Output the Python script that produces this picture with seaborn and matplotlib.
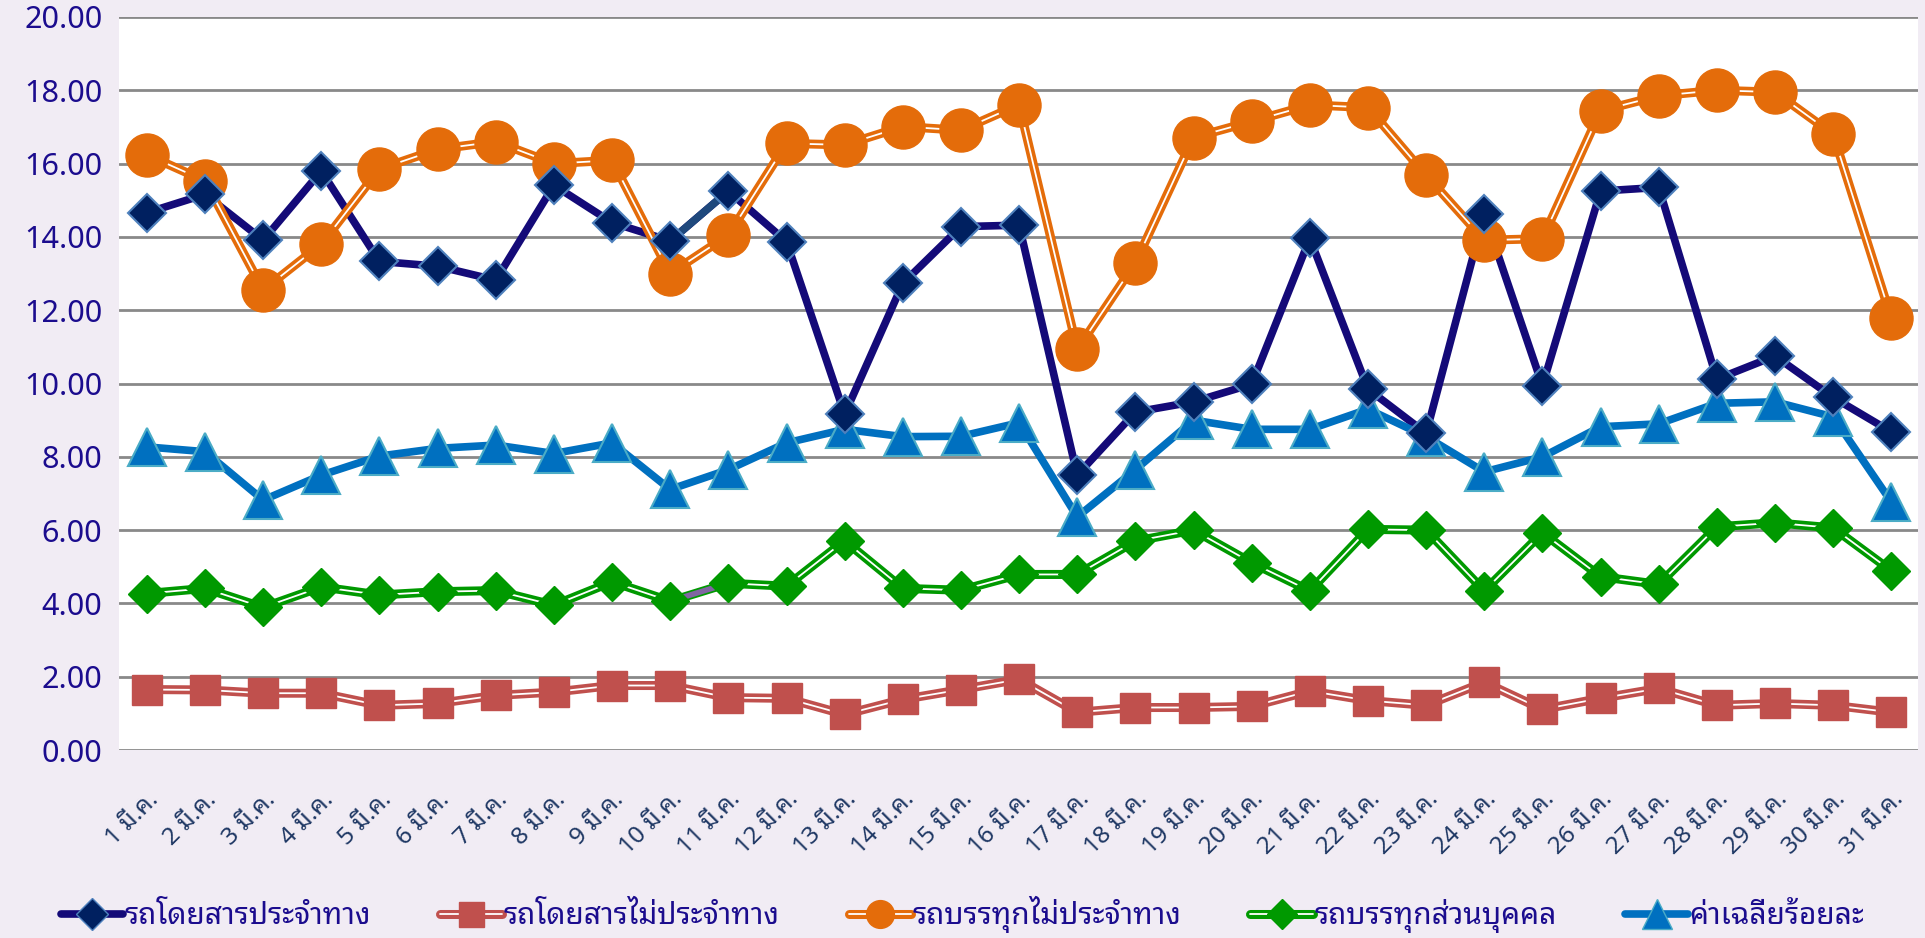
import matplotlib

matplotlib.use("Agg")
import matplotlib.pyplot as plt
import numpy as np
import pandas as pd
import seaborn as sns
from matplotlib import font_manager
from matplotlib.lines import Line2D

days = [f"{d} มี.ค." for d in range(1, 32)]

bus_regular = [14.66, 15.16, 13.91, 15.80, 13.33, 13.20, 12.82, 15.41, 14.39, 13.89,
               15.25, 13.87, 9.16, 12.73, 14.28, 14.32, 7.50, 9.22, 9.50, 9.98,
               13.96, 9.85, 8.64, 14.62, 9.94, 15.25, 15.35, 10.12, 10.75, 9.62, 8.68]
bus_charter = [1.65, 1.64, 1.55, 1.55, 1.22, 1.27, 1.49, 1.58, 1.76, 1.76,
               1.43, 1.41, 0.97, 1.38, 1.65, 1.93, 1.03, 1.16, 1.16, 1.19,
               1.61, 1.35, 1.22, 1.85, 1.11, 1.41, 1.68, 1.22, 1.27, 1.22, 1.03]
truck_charter = [16.24, 15.53, 12.55, 13.80, 15.85, 16.39, 16.60, 16.00, 16.09, 13.00,
                 14.05, 16.55, 16.51, 17.01, 16.91, 17.61, 10.93, 13.29, 16.71, 17.15,
                 17.60, 17.53, 15.68, 13.91, 13.95, 17.44, 17.85, 18.00, 17.95, 16.80, 11.78]
truck_private = [4.27, 4.41, 3.89, 4.45, 4.23, 4.32, 4.35, 3.95, 4.59, 4.06,
                 4.55, 4.47, 5.71, 4.41, 4.36, 4.79, 4.79, 5.70, 6.00, 5.11,
                 4.34, 6.02, 6.00, 4.34, 5.93, 4.73, 4.52, 6.09, 6.20, 6.06, 4.89]
average = [8.27, 8.14, 6.82, 7.50, 8.02, 8.23, 8.32, 8.09, 8.38, 7.11,
           7.65, 8.38, 8.75, 8.55, 8.56, 8.93, 6.36, 7.65, 9.00, 8.75,
           8.75, 9.30, 8.55, 7.59, 8.00, 8.82, 8.90, 9.46, 9.50, 9.09, 6.77]

labels = ["รถโดยสารประจำทาง", "รถโดยสารไม่ประจำทาง", "รถบรรทุกไม่ประจำทาง",
          "รถบรรทุกส่วนบุคคล", "ค่าเฉลี่ยร้อยละ"]

# pick an installed font that has Thai glyphs
installed = {f.name for f in font_manager.fontManager.ttflist}
thai = "DejaVu Sans"
for name in ["Tahoma", "Noto Sans Thai Looped", "IBM Plex Sans Thai Looped", "Noto Sans Thai", "Loma"]:
    if name in installed:
        thai = name
        break

sns.set_style("white")
plt.rcParams["font.family"] = [thai, "DejaVu Sans"]

BG = "#F1ECF4"
TXT = "#1B0C8E"
df = pd.DataFrame({"x": np.arange(len(days))})

fig = plt.figure(figsize=(19.25, 9.38), dpi=100, facecolor=BG)
ax = fig.add_axes([0.0618, 0.2004, 0.9346, 0.7815])
ax.set_facecolor("white")

# solid lines
sns.lineplot(x=df["x"], y=bus_regular, ax=ax, color="#140A78", lw=5.5, zorder=3)
sns.lineplot(x=df["x"][9:11], y=bus_regular[9:11], ax=ax, color="#1F497D", lw=5.5, zorder=3)
sns.lineplot(x=df["x"], y=average, ax=ax, color="#0070C0", lw=5.5, zorder=3)

# double lines: coloured thick line with a thin white core
for vals, col in [(truck_charter, "#E46C0A"), (bus_charter, "#C0504D"), (truck_private, "#009900")]:
    sns.lineplot(x=df["x"], y=vals, ax=ax, color=col, lw=6.5, zorder=3)
    if col == "#009900":
        sns.lineplot(x=df["x"][9:11], y=vals[9:11], ax=ax, color="#8064A2", lw=4, zorder=3)
        sns.lineplot(x=df["x"][:10], y=vals[:10], ax=ax, color="white", lw=1.3, zorder=3)
        sns.lineplot(x=df["x"][10:], y=vals[10:], ax=ax, color="white", lw=1.3, zorder=3)
    else:
        sns.lineplot(x=df["x"], y=vals, ax=ax, color="white", lw=1.3, zorder=3)

# markers
ax.plot(df["x"], bus_charter, ls="none", marker="s", ms=22, color="#C0504D", mec="#C0504D", zorder=4)
ax.plot(df["x"], truck_private, ls="none", marker="D", ms=19, color="#009900", mec="#009900", zorder=4)
ax.plot(df["x"], average, ls="none", marker="^", ms=27, color="#0070C0", mec="#4BACC6", mew=1.5, zorder=4)
ax.plot(df["x"], truck_charter, ls="none", marker="o", ms=31, color="#E46C0A", mec="#E46C0A", zorder=4)
ax.plot(df["x"], bus_regular, ls="none", marker="D", ms=19, color="#002060", mec="#4F81BD", mew=1.5, zorder=4)

ax.set_xlim(-0.48, 30.46)
ax.set_ylim(0, 20)
ax.set_yticks(np.arange(0, 20.1, 2))
ax.set_yticklabels([f"{v:.2f}" for v in np.arange(0, 20.1, 2)], fontsize=22, color=TXT)
ax.set_xticks(df["x"])
ax.set_xticklabels(days, rotation=45, ha="right", rotation_mode="anchor", fontsize=17.5, color="#1F3864")
ax.tick_params(axis="y", length=0, pad=12)
ax.tick_params(axis="x", length=0, pad=27)
ax.grid(axis="y", color="#898989", lw=2)
ax.set_axisbelow(True)
for s in ax.spines.values():
    s.set_visible(False)
ax.set_xlabel("")
ax.set_ylabel("")

handles = [
    (Line2D([], [], color="#140A78", lw=5.5), Line2D([], [], ls="none", marker="D", ms=16, color="#002060", mec="#4F81BD")),
    (Line2D([], [], color="#C0504D", lw=6.5), Line2D([], [], color="white", lw=1.3), Line2D([], [], ls="none", marker="s", ms=18, color="#C0504D")),
    (Line2D([], [], color="#E46C0A", lw=6.5), Line2D([], [], color="white", lw=1.3), Line2D([], [], ls="none", marker="o", ms=20, color="#E46C0A")),
    (Line2D([], [], color="#009900", lw=6.5), Line2D([], [], color="white", lw=1.3), Line2D([], [], ls="none", marker="D", ms=15, color="#009900")),
    (Line2D([], [], color="#0070C0", lw=5.5), Line2D([], [], ls="none", marker="^", ms=22, color="#0070C0", mec="#4BACC6")),
]
fig.legend(handles, labels, loc="center", bbox_to_anchor=(0.5, 0.025), ncol=5, frameon=False,
           fontsize=21.5, labelcolor=TXT, handlelength=2.1, handletextpad=0.05, columnspacing=2.3)

fig.savefig("out.png", dpi=100, facecolor=BG)
